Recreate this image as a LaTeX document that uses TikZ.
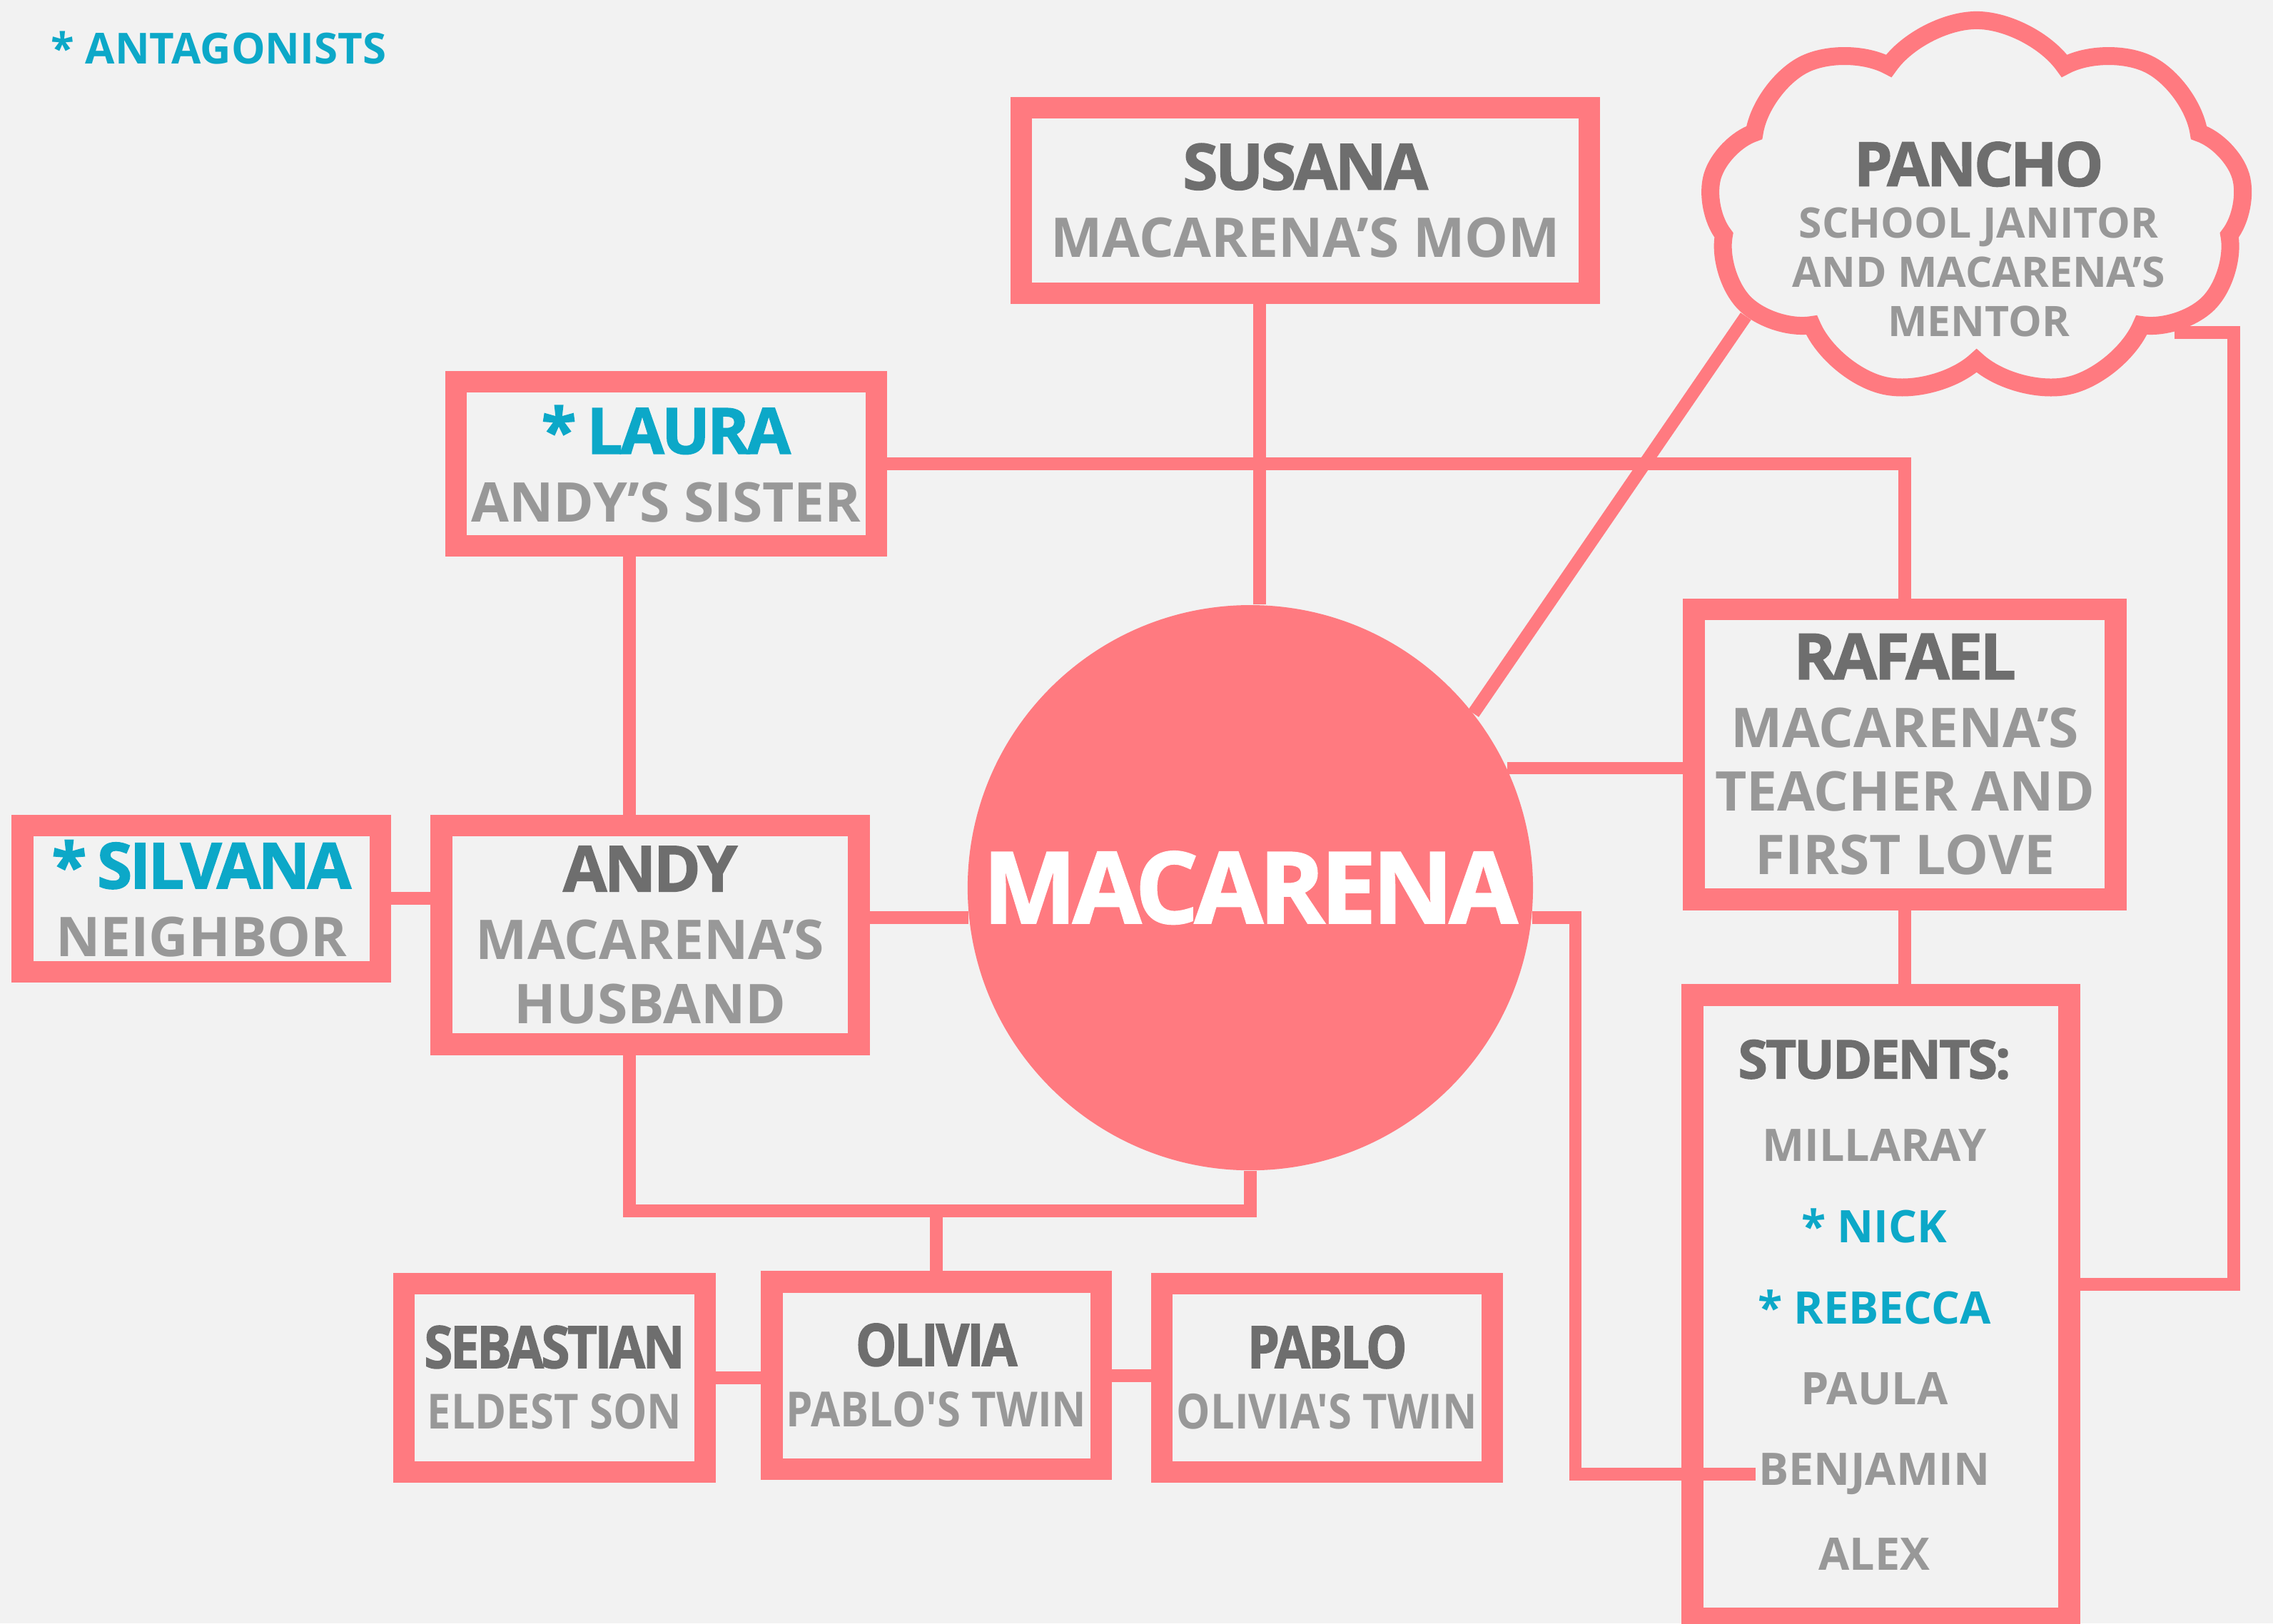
\documentclass[tikz,border=0pt]{standalone}
\usepackage{fontspec}
\usepackage{tikz}
\usetikzlibrary{shapes.symbols}
\setmainfont{Open Sans}
\newfontfamily\slimfont{Open Sans}[FakeStretch=0.88]
\newfontfamily\heavyfont{Open Sans}[BoldFeatures={FakeBold=1.6},LetterSpace=-4]
\newfontfamily\slimheavyfont{Open Sans}[BoldFeatures={FakeBold=1.6},LetterSpace=-4,FakeStretch=0.88]

\definecolor{coral}{RGB}{255,122,128}
\definecolor{paper}{RGB}{242,242,242}
\definecolor{ink}{RGB}{110,110,110}
\definecolor{mist}{RGB}{152,152,152}
\definecolor{villain}{RGB}{12,168,200}

\newcommand{\who}[1]{{\color{ink}\heavyfont\bfseries\fontsize{25}{25}\selectfont#1}}
\newcommand{\kid}[1]{{\color{ink}\slimheavyfont\bfseries\fontsize{23}{23}\selectfont#1}}
\newcommand{\bad}[1]{{\color{villain}\heavyfont\bfseries\fontsize{25}{25}\selectfont*\,#1}}
\newcommand{\role}[1]{{\color{mist}#1}}

\begin{document}
\begin{tikzpicture}
    [box/.style={draw=coral,line width=8.5pt,align=center,inner sep=0pt,
        font=\bfseries\fontsize{21.5}{25}\selectfont},
    kidbox/.style={box,font=\slimfont\bfseries\fontsize{19}{24}\selectfont},
    link/.style={coral,line width=5pt},
    pupil/.style={inner sep=1pt,font=\bfseries\fontsize{17.6}{20}\selectfont,mist}]

%background and page size
\fill[paper] (0,0) rectangle (31.36,22.4);
\useasboundingbox (0,0) rectangle (31.36,22.4);

\node[anchor=west,villain,font=\bfseries\fontsize{16.8}{18}\selectfont] (legend) at (0.58,21.74) {* ANTAGONISTS};

%main character
\node[circle,fill=coral,minimum size=7.8cm,inner sep=0pt,text=white,
    font=\heavyfont\bfseries\fontsize{39}{39}\selectfont] (mac) at (17.25,10.15) {MACARENA};

%people round her
\node[box,minimum width=7.84cm,minimum height=2.56cm] (susana) at (18.01,19.63)
    {\who{SUSANA}\\[1.7pt]\role{MACARENA'S MOM}};
\node[box,minimum width=5.80cm,minimum height=2.26cm] (laura) at (9.19,16.00)
    {\bad{LAURA}\\[1.7pt]\role{ANDY'S SISTER}};
\node[box,minimum width=5.82cm,minimum height=4.00cm] (rafael) at (26.28,11.99)
    {\who{RAFAEL}\\[1.7pt]\role{MACARENA'S}\\\role{TEACHER AND}\\\role{FIRST LOVE}};
\node[box,minimum width=5.76cm,minimum height=3.02cm] (andy) at (8.97,9.50)
    {\who{ANDY}\\[1.7pt]\role{MACARENA'S}\\\role{HUSBAND}};
\node[box,minimum width=4.94cm,minimum height=2.02cm] (silvana) at (2.78,10.00)
    {\bad{SILVANA}\\[1.7pt]\role{NEIGHBOR}};

%children
\node[kidbox,minimum width=4.16cm,minimum height=2.60cm] (sebastian) at (7.65,3.39)
    {\kid{SEBASTIAN}\\\role{ELDEST SON}};
\node[kidbox,minimum width=4.54cm,minimum height=2.58cm] (olivia) at (12.92,3.42)
    {\kid{OLIVIA}\\\role{PABLO'S TWIN}};
\node[kidbox,minimum width=4.56cm,minimum height=2.60cm] (pablo) at (18.31,3.39)
    {\kid{PABLO}\\\role{OLIVIA'S TWIN}};

%mentor cloud
\node[cloud,draw=coral,line width=7pt,cloud puffs=9,cloud puff arc=110,aspect=1.45,
    minimum width=7.4cm,minimum height=5.2cm] (pancho) at (27.27,19.52) {};
\node[align=center,font=\bfseries\fontsize{16.5}{19.3}\selectfont,mist] (panchotext) at (27.30,19.10)
    {{\color{ink}\heavyfont\bfseries\fontsize{24}{24}\selectfont PANCHO}\\[1pt]
     SCHOOL JANITOR\\AND MACARENA'S\\MENTOR};

%class list
\node[box,minimum width=5.20cm,minimum height=8.60cm] (students) at (25.95,4.37) {};
\node[inner sep=1pt,font=\heavyfont\bfseries\fontsize{21}{21}\selectfont,ink] (heading) at (25.86,7.78) {STUDENTS:};
\node[pupil] (millaray) at (25.86,6.60) {MILLARAY};
\node[pupil,villain] (nick) at (25.86,5.48) {* NICK};
\node[pupil,villain] (rebecca) at (25.86,4.36) {* REBECCA};
\node[pupil] (paula) at (25.86,3.24) {PAULA};
\node[pupil] (benjamin) at (25.86,2.06) {BENJAMIN};
\node[pupil] (alex) at (25.86,0.96) {ALEX};

%connections
\draw[link] ([xshift=1.3mm]mac.north) -- ([xshift=1.3mm]mac.north |- susana.south);
\draw[link] (laura.east) -| (rafael.north);
\draw[link] ([xshift=-2.9mm]andy.north) -- ([xshift=-2.9mm]andy.north |- laura.south);
\draw[link] (silvana.east) -- (silvana.east -| andy.west);
\draw[link] (mac.186.6) -- (mac.186.6 -| andy.east);
\draw[link] (mac.25) -- (mac.25 -| rafael.west);
\draw[link] (mac.38.6) -- (pancho.205);
\draw[link] (mac.-6) -- ++(0.6,0) |- (benjamin.west);
\draw[link] (mac.south) -- ++(0,-0.55) coordinate (kids) -| ([xshift=-2.9mm]andy.south);
\draw[link] (olivia.north) -- (olivia.north |- kids);
\draw[link] (sebastian.east) -- (sebastian.east -| olivia.west);
\draw[link] (olivia.east) -- (olivia.east -| pablo.west);
\draw[link] (rafael.south) -- (rafael.south |- students.north);
\coordinate (rail) at (30.82,4.68);
\draw[link] (pancho.-32) -| (rail) -- (rail -| students.east);

\end{tikzpicture}
\end{document}
